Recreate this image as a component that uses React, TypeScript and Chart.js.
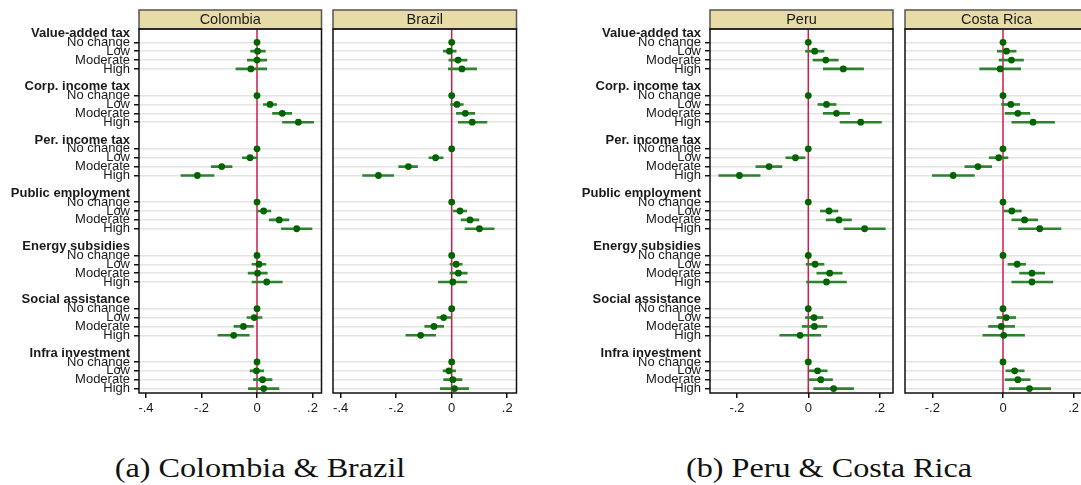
import React, { useEffect, useRef } from 'react';
import { Chart, registerables } from 'chart.js';

Chart.register(...registerables);

// ---------- data ----------
const groups = [
  'Value-added tax',
  'Corp. income tax',
  'Per. income tax',
  'Public employment',
  'Energy subsidies',
  'Social assistance',
  'Infra investment',
];
const levels = ['No change', 'Low', 'Moderate', 'High'];

const colombiaEst = [
  0, 0.002, 0.0, -0.022,
  0, 0.047, 0.091, 0.149,
  0, -0.025, -0.127, -0.215,
  0, 0.024, 0.08, 0.143,
  0, 0.007, 0.002, 0.035,
  0, -0.01, -0.049, -0.084,
  0, -0.002, 0.02, 0.024,
];
const colombiaLo = [
  null, -0.023, -0.035, -0.076,
  null, 0.023, 0.056, 0.092,
  null, -0.053, -0.165, -0.274,
  null, 0.0, 0.044, 0.088,
  null, -0.018, -0.032, -0.018,
  null, -0.036, -0.083, -0.141,
  null, -0.025, -0.013, -0.031,
];
const colombiaHi = [
  null, 0.03, 0.035, 0.035,
  null, 0.071, 0.125, 0.204,
  null, 0.001, -0.09, -0.155,
  null, 0.05, 0.115, 0.198,
  null, 0.032, 0.037, 0.091,
  null, 0.018, -0.013, -0.028,
  null, 0.024, 0.054, 0.079,
];

const brazilEst = [
  0, -0.008, 0.023, 0.037,
  0, 0.019, 0.049, 0.074,
  0, -0.058, -0.156, -0.264,
  0, 0.03, 0.066, 0.1,
  0, 0.016, 0.024, 0.004,
  0, -0.029, -0.064, -0.112,
  0, -0.01, 0.004, 0.01,
];
const brazilLo = [
  null, -0.03, -0.01, -0.012,
  null, -0.004, 0.017, 0.024,
  null, -0.082, -0.191, -0.321,
  null, 0.006, 0.034, 0.048,
  null, -0.006, -0.006, -0.048,
  null, -0.053, -0.097, -0.165,
  null, -0.031, -0.029, -0.041,
];
const brazilHi = [
  null, 0.016, 0.055, 0.09,
  null, 0.042, 0.083, 0.127,
  null, -0.031, -0.123, -0.209,
  null, 0.054, 0.098, 0.153,
  null, 0.038, 0.056, 0.055,
  null, -0.002, -0.029, -0.058,
  null, 0.014, 0.037, 0.061,
];

const peruEst = [
  0, 0.018, 0.049, 0.098,
  0, 0.051, 0.079, 0.147,
  0, -0.036, -0.11, -0.193,
  0, 0.058, 0.086, 0.158,
  0, 0.019, 0.06, 0.051,
  0, 0.016, 0.017, -0.023,
  0, 0.026, 0.035, 0.071,
];
const peruLo = [
  null, -0.008, 0.013, 0.042,
  null, 0.027, 0.042, 0.089,
  null, -0.063, -0.147, -0.251,
  null, 0.034, 0.05, 0.1,
  null, -0.006, 0.024, -0.005,
  null, -0.008, -0.017, -0.08,
  null, 0.002, 0.001, 0.015,
];
const peruHi = [
  null, 0.044, 0.084, 0.155,
  null, 0.078, 0.116, 0.205,
  null, -0.009, -0.074, -0.135,
  null, 0.083, 0.121, 0.216,
  null, 0.044, 0.095, 0.107,
  null, 0.041, 0.052, 0.035,
  null, 0.053, 0.068, 0.127,
];

const costaRicaEst = [
  0, 0.01, 0.024, -0.008,
  0, 0.022, 0.042, 0.085,
  0, -0.012, -0.071, -0.141,
  0, 0.025, 0.061, 0.104,
  0, 0.04, 0.082, 0.082,
  0, 0.009, -0.005, 0.002,
  0, 0.033, 0.042, 0.075,
];
const costaRicaLo = [
  null, -0.016, -0.011, -0.066,
  null, -0.004, 0.006, 0.025,
  null, -0.039, -0.108, -0.2,
  null, 0.0, 0.025, 0.044,
  null, 0.014, 0.047, 0.025,
  null, -0.017, -0.041, -0.057,
  null, 0.008, 0.006, 0.018,
];
const costaRicaHi = [
  null, 0.037, 0.058, 0.05,
  null, 0.047, 0.076, 0.146,
  null, 0.014, -0.032, -0.081,
  null, 0.052, 0.098, 0.164,
  null, 0.064, 0.118, 0.141,
  null, 0.036, 0.033, 0.061,
  null, 0.06, 0.077, 0.135,
];

const ticksAB = [-0.4, -0.2, 0, 0.2];
const tickLabelsAB = ['-.4', '-.2', '0', '.2'];
const ticksCD = [-0.2, 0, 0.2];
const tickLabelsCD = ['-.2', '0', '.2'];

const captionA = '(a) Colombia & Brazil';
const captionB = '(b) Peru & Costa Rica';

// ---------- styles ----------
const SANS = '"Liberation Sans", Arial, Helvetica, sans-serif';
const CI_COLOR = '#2f812f';
const PT_COLOR = '#006400';
const ZERO_COLOR = '#cc1c48';
const GRID_COLOR = '#e4e4e4';
const STRIP_FILL = '#e8dca6';

// row labels: header, 4 levels, blank spacer
const rowLabels: string[] = [];
groups.forEach((g, gi) => {
  rowLabels.push(g);
  levels.forEach((l) => rowLabels.push(l));
  if (gi < groups.length - 1) rowLabels.push('');
});
const isItem = (i: number) => i % 6 >= 1 && i % 6 <= 4;

type PanelProps = {
  title: string;
  est: number[];
  lo: (number | null)[];
  hi: (number | null)[];
  xMin: number;
  xMax: number;
  xTicks: number[];
  xTickLabels: string[];
  showLabels: boolean;
  left: number;
  width: number;
  padLeft: number;
  padRight: number;
  yAxisWidth: number;
};

function makePlugin(title: string) {
  return {
    id: 'panelDecor',
    beforeDatasetsDraw(chart: any) {
      const { ctx, chartArea: a } = chart;
      const x = chart.scales.x.getPixelForValue(0);
      ctx.save();
      ctx.strokeStyle = ZERO_COLOR;
      ctx.lineWidth = 1.5;
      ctx.beginPath();
      ctx.moveTo(x, a.top);
      ctx.lineTo(x, a.bottom);
      ctx.stroke();
      ctx.restore();
    },
    afterDraw(chart: any) {
      const { ctx, chartArea: a } = chart;
      ctx.save();
      // strip
      const sh = 19;
      ctx.fillStyle = STRIP_FILL;
      ctx.fillRect(a.left, a.top - sh, a.right - a.left, sh);
      ctx.strokeStyle = '#555';
      ctx.lineWidth = 1.5;
      ctx.strokeRect(a.left, a.top - sh, a.right - a.left, sh);
      ctx.fillStyle = '#1a1a1a';
      ctx.font = `14.5px ${SANS}`;
      ctx.textAlign = 'center';
      ctx.textBaseline = 'middle';
      ctx.fillText(title, (a.left + a.right) / 2, a.top - sh / 2 + 0.5);
      // frame
      ctx.strokeStyle = '#111';
      ctx.lineWidth = 1.5;
      ctx.strokeRect(a.left, a.top, a.right - a.left, a.bottom - a.top);
      ctx.restore();
    },
  };
}

function Panel(p: PanelProps) {
  const ref = useRef<HTMLCanvasElement>(null);
  useEffect(() => {
    const n = rowLabels.length;
    const ciData: any[] = new Array(n).fill(null);
    const ptData: any[] = new Array(n).fill(null);
    groups.forEach((_, gi) => {
      levels.forEach((__, li) => {
        const row = gi * 6 + 1 + li;
        const k = gi * 4 + li;
        ptData[row] = p.est[k];
        if (p.lo[k] !== null && p.hi[k] !== null) ciData[row] = [p.lo[k], p.hi[k]];
      });
    });
    const chart = new Chart(ref.current as HTMLCanvasElement, {
      type: 'bar',
      data: {
        labels: rowLabels,
        datasets: [
          {
            type: 'bar',
            data: ciData,
            backgroundColor: CI_COLOR,
            borderWidth: 0,
            barThickness: 2,
            grouped: false,
            order: 1,
          } as any,
          {
            type: 'line',
            data: ptData,
            showLine: false,
            pointRadius: 3.4,
            pointHoverRadius: 3.4,
            pointBackgroundColor: PT_COLOR,
            pointBorderWidth: 0,
            borderColor: PT_COLOR,
            order: 0,
          } as any,
        ],
      },
      options: {
        indexAxis: 'y',
        responsive: false,
        animation: false,
        events: [],
        layout: { padding: { top: 29, left: p.padLeft, right: p.padRight, bottom: 0 } },
        plugins: {
          legend: { display: false },
          tooltip: { enabled: false },
          title: { display: false },
        },
        scales: {
          x: {
            type: 'linear',
            min: p.xMin,
            max: p.xMax,
            afterBuildTicks: (s: any) => {
              s.ticks = p.xTicks.map((v) => ({ value: v }));
            },
            afterFit: (s: any) => {
              s.height = 32;
            },
            ticks: {
              autoSkip: false,
              maxRotation: 0,
              padding: 3,
              color: '#1a1a1a',
              font: { family: SANS, size: 13 },
              callback: (v: any) => {
                const i = p.xTicks.findIndex((t) => Math.abs(t - Number(v)) < 1e-9);
                return i >= 0 ? p.xTickLabels[i] : '';
              },
            },
            grid: {
              drawOnChartArea: false,
              drawTicks: true,
              tickLength: 5,
              color: '#111',
              lineWidth: 1.5,
            },
            border: { display: false },
          },
          y: {
            type: 'category',
            offset: true,
            afterFit: (s: any) => {
              s.width = p.yAxisWidth;
            },
            ticks: {
              display: p.showLabels,
              autoSkip: false,
              padding: 4,
              color: '#1a1a1a',
              font: (c: any) => ({
                family: SANS,
                size: 13,
                weight: c.index % 6 === 0 ? 'bold' : 'normal',
              }),
            },
            grid: {
              offset: false,
              color: (c: any) => (isItem(c.index) ? GRID_COLOR : 'rgba(0,0,0,0)'),
              lineWidth: 1.5,
              drawTicks: p.showLabels,
              tickLength: 5,
              tickColor: (c: any) => (isItem(c.index) ? '#111' : 'rgba(0,0,0,0)'),
              tickWidth: 1.5,
            } as any,
            border: { display: false },
          },
        },
      } as any,
      plugins: [makePlugin(p.title)],
    });
    return () => chart.destroy();
  }, []);
  return (
    <canvas
      ref={ref}
      width={p.width}
      height={425}
      style={{ position: 'absolute', left: p.left, top: 0, width: p.width, height: 425 }}
    />
  );
}

function Caption({ text, center }: { text: string; center: number }) {
  return (
    <div
      style={{
        position: 'absolute',
        left: center - 220,
        width: 440,
        top: 454,
        textAlign: 'center',
        fontFamily: '"Liberation Serif", "Times New Roman", serif',
        fontSize: 28,
        lineHeight: '28px',
        color: '#111',
        transform: 'scaleX(1.15)',
        whiteSpace: 'nowrap',
      }}
    >
      {text}
    </div>
  );
}

export default function App() {
  return (
    <div
      style={{
        position: 'absolute',
        left: 0,
        top: 0,
        width: 1081,
        height: 485,
        overflow: 'hidden',
        background: '#fff',
      }}
    >
      <Panel
        title="Colombia"
        est={colombiaEst}
        lo={colombiaLo}
        hi={colombiaHi}
        xMin={-0.4252}
        xMax={0.2324}
        xTicks={ticksAB}
        xTickLabels={tickLabelsAB}
        showLabels={true}
        left={0}
        width={328}
        padLeft={0}
        padRight={6.5}
        yAxisWidth={139}
      />
      <Panel
        title="Brazil"
        est={brazilEst}
        lo={brazilLo}
        hi={brazilHi}
        xMin={-0.4277}
        xMax={0.2335}
        xTicks={ticksAB}
        xTickLabels={tickLabelsAB}
        showLabels={false}
        left={323}
        width={200}
        padLeft={10}
        padRight={6.5}
        yAxisWidth={0}
      />
      <Panel
        title="Peru"
        est={peruEst}
        lo={peruLo}
        hi={peruHi}
        xMin={-0.2756}
        xMax={0.2375}
        xTicks={ticksCD}
        xTickLabels={tickLabelsCD}
        showLabels={true}
        left={571}
        width={328}
        padLeft={0}
        padRight={6}
        yAxisWidth={139}
      />
      <Panel
        title="Costa Rica"
        est={costaRicaEst}
        lo={costaRicaLo}
        hi={costaRicaHi}
        xMin={-0.2774}
        xMax={0.2406}
        xTicks={ticksCD}
        xTickLabels={tickLabelsCD}
        showLabels={false}
        left={895}
        width={199}
        padLeft={10}
        padRight={6}
        yAxisWidth={0}
      />
      <Caption text={captionA} center={260} />
      <Caption text={captionB} center={829} />
    </div>
  );
}
